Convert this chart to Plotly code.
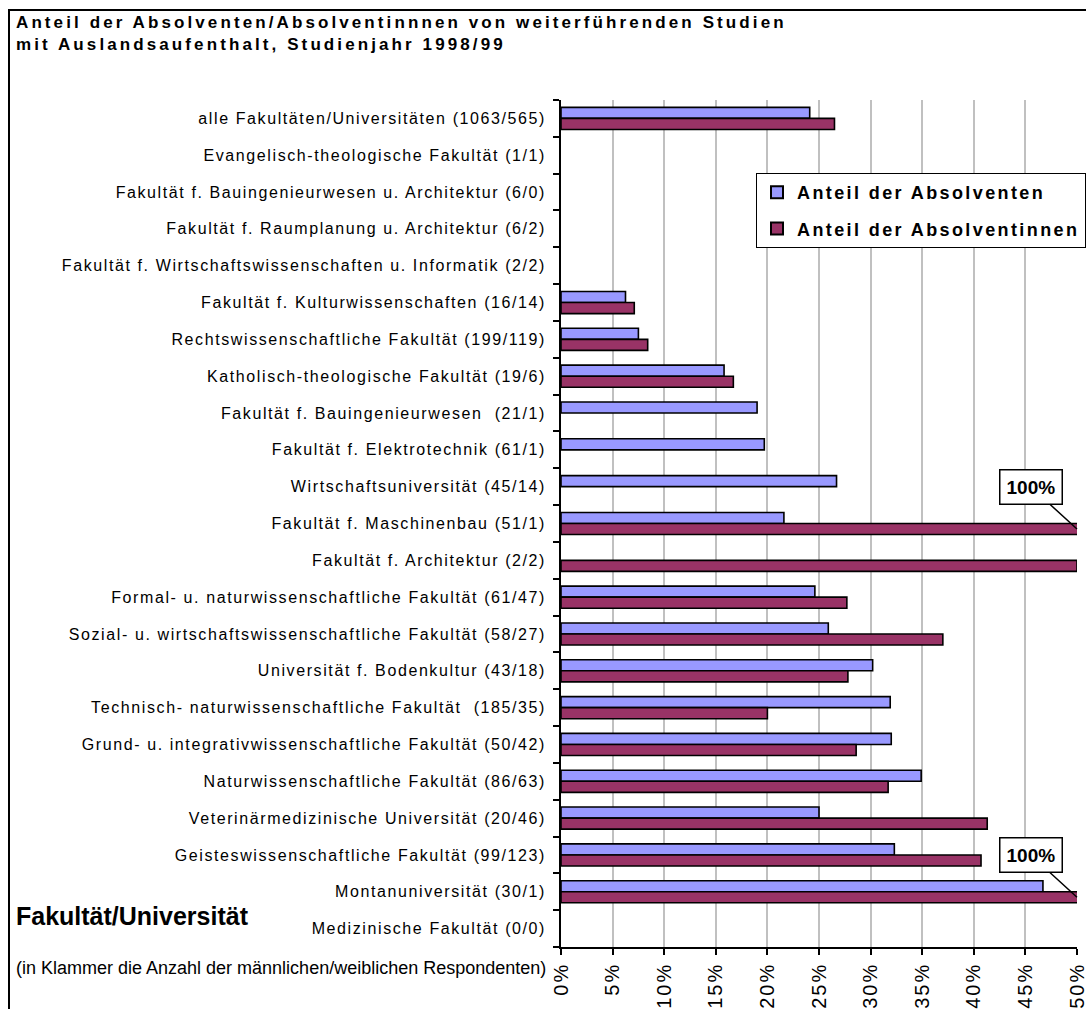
import plotly.graph_objects as go

# Faculties / universities, top to bottom, with (male/female) respondent counts
categories = [
    "alle Fakultäten/Universitäten (1063/565)",
    "Evangelisch-theologische Fakultät (1/1)",
    "Fakultät f. Bauingenieurwesen u. Architektur (6/0)",
    "Fakultät f. Raumplanung u. Architektur (6/2)",
    "Fakultät f. Wirtschaftswissenschaften u. Informatik (2/2)",
    "Fakultät f. Kulturwissenschaften (16/14)",
    "Rechtswissenschaftliche Fakultät (199/119)",
    "Katholisch-theologische Fakultät (19/6)",
    "Fakultät f. Bauingenieurwesen  (21/1)",
    "Fakultät f. Elektrotechnik (61/1)",
    "Wirtschaftsuniversität (45/14)",
    "Fakultät f. Maschinenbau (51/1)",
    "Fakultät f. Architektur (2/2)",
    "Formal- u. naturwissenschaftliche Fakultät (61/47)",
    "Sozial- u. wirtschaftswissenschaftliche Fakultät (58/27)",
    "Universität f. Bodenkultur (43/18)",
    "Technisch- naturwissenschaftliche Fakultät  (185/35)",
    "Grund- u. integrativwissenschaftliche Fakultät (50/42)",
    "Naturwissenschaftliche Fakultät (86/63)",
    "Veterinärmedizinische Universität (20/46)",
    "Geisteswissenschaftliche Fakultät (99/123)",
    "Montanuniversität (30/1)",
    "Medizinische Fakultät (0/0)",
]

# Share of male graduates with a stay abroad
absolventen = [0.241, 0, 0, 0, 0, 0.0625, 0.075, 0.158, 0.190, 0.197, 0.267,
               0.216, 0, 0.246, 0.259, 0.302, 0.319, 0.320, 0.349, 0.250,
               0.323, 0.467, 0]

# Share of female graduates with a stay abroad
absolventinnen = [0.265, 0, 0, 0, 0, 0.071, 0.084, 0.167, 0, 0, 0,
                  1.0, 0.50, 0.277, 0.370, 0.278, 0.200, 0.286, 0.317, 0.413,
                  0.407, 1.0, 0]

x_ticks = [0, 0.05, 0.10, 0.15, 0.20, 0.25, 0.30, 0.35, 0.40, 0.45, 0.50]
x_tick_labels = ["0%", "5%", "10%", "15%", "20%", "25%", "30%", "35%", "40%", "45%", "50%"]

series_names = ["Anteil der Absolventen", "Anteil der Absolventinnen"]
series_colors = ["#9999ff", "#993366"]

FONT = "Liberation Sans, Arial, sans-serif"
NARROW = "Liberation Sans Narrow, Liberation Sans, Arial, sans-serif"


def spaced(text, px, bold=False):
    """Wrap text in a span with extra letter spacing."""
    inner = "<b>%s</b>" % text if bold else text
    return '<span style="letter-spacing:%.1fpx">%s</span>' % (px, inner)


W, H = 1086, 1009
ML, MR, MT, MB = 561, 9, 100, 62
PW, PH = W - ML - MR, H - MT - MB

fig = go.Figure()
for k, (name, vals, color) in enumerate(zip(series_names, [absolventen, absolventinnen], series_colors)):
    fig.add_trace(go.Bar(
        y=categories, x=vals, name=spaced(name, 2.4, bold=True), orientation="h",
        legendgroup="g%d" % k,
        marker=dict(color=color,
                    # empty bars get no outline
                    line=dict(color="black", width=[1.6 if v > 0 else 0 for v in vals])),
    ))

# Callouts for values that exceed the axis range
annotations = []
for i, v in enumerate(absolventinnen):
    if v > x_ticks[-1]:
        annotations.append(dict(
            x=x_ticks[-1], y=i + 0.15, xref="x", yref="y",
            text="<b>%d%%</b>" % round(v * 100),
            showarrow=True, arrowhead=0, arrowwidth=1.5, arrowcolor="black",
            ax=-46, ay=-42, standoff=0,
            bgcolor="white", bordercolor="black", borderwidth=1.5, borderpad=6,
            font=dict(family=FONT, size=19, color="black"),
        ))


def px_to_paper_x(px):
    return (px - ML) / PW


def px_to_paper_y(py):
    return 1 - (py - MT) / PH


annotations += [
    dict(x=px_to_paper_x(14), y=px_to_paper_y(11), xref="paper", yref="paper",
         xanchor="left", yanchor="top", showarrow=False, align="left",
         text=spaced("Anteil der Absolventen/Absolventinnnen von weiterführenden Studien", 3.1, True)
              + "<br>" + spaced("mit Auslandsaufenthalt, Studienjahr 1998/99", 3.1, True),
         font=dict(family=FONT, size=17, color="black")),
    dict(x=px_to_paper_x(14), y=px_to_paper_y(916), xref="paper", yref="paper",
         xanchor="left", yanchor="middle", showarrow=False,
         text="<b>Fakultät/Universität</b>",
         font=dict(family=NARROW, size=25, color="black")),
    dict(x=px_to_paper_x(14), y=px_to_paper_y(968), xref="paper", yref="paper",
         xanchor="left", yanchor="middle", showarrow=False,
         text="(in Klammer die Anzahl der männlichen/weiblichen Respondenten)",
         font=dict(family=NARROW, size=18, color="black")),
]

# Outer chart frame
shapes = [dict(type="rect", xref="paper", yref="paper",
               x0=px_to_paper_x(9), x1=px_to_paper_x(1095),
               y0=px_to_paper_y(1020), y1=px_to_paper_y(10),
               line=dict(color="black", width=2), layer="below")]

fig.update_layout(
    width=W, height=H,
    margin=dict(l=ML, r=MR, t=MT, b=MB, autoexpand=False),
    paper_bgcolor="white", plot_bgcolor="white",
    barmode="group", bargap=0.4, bargroupgap=0,
    font=dict(family=FONT, color="black"),
    showlegend=True,
    legend=dict(
        x=px_to_paper_x(756), y=px_to_paper_y(173), xanchor="left", yanchor="top",
        bgcolor="white", bordercolor="black", borderwidth=1,
        font=dict(family=FONT, size=18, color="black"),
        traceorder="grouped", itemsizing="constant", tracegroupgap=10,
    ),
    xaxis=dict(
        range=[0, 0.5], tickvals=x_ticks,
        ticktext=[spaced(t, 2.0) for t in x_tick_labels], tickangle=-90,
        tickfont=dict(family=FONT, size=20, color="black"),
        ticklabeloverflow="allow", automargin=False,
        showgrid=True, gridcolor="#c0c0c0", gridwidth=2,
        showline=True, linecolor="black", linewidth=1.5,
        ticks="outside", ticklen=6, tickcolor="black", tickwidth=1.5,
        zeroline=False, fixedrange=True,
    ),
    yaxis=dict(
        type="category", automargin=False,
        range=[len(categories) - 0.5, -0.5],
        tickvals=categories, ticktext=[spaced(c, 1.6) for c in categories],
        tickfont=dict(family=FONT, size=16, color="black"),
        showline=True, linecolor="black", linewidth=1.5,
        ticks="outside", ticklen=6, tickcolor="black", tickwidth=1.5,
        tickson="boundaries", ticklabelstandoff=10,
        showgrid=False, zeroline=False, fixedrange=True,
    ),
    annotations=annotations,
    shapes=shapes,
)

fig.write_html("out.html")
